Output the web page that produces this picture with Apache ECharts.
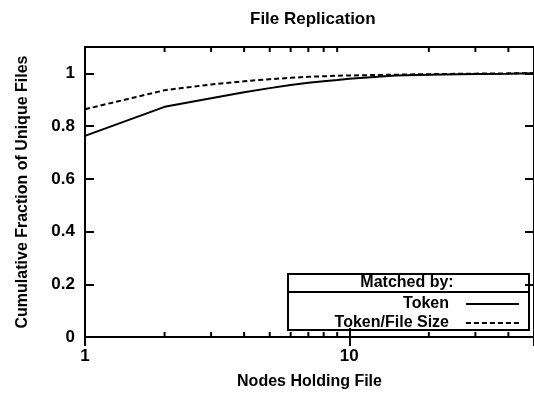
<!DOCTYPE html>
<html>
<head>
<meta charset="utf-8">
<script src="https://cdn.jsdelivr.net/npm/echarts@6/dist/echarts.min.js"></script>
<style>
  html, body { margin: 0; padding: 0; background: #fff; }
  #chart { width: 534px; height: 396px; }
</style>
</head>
<body>
<div id="chart"></div>
<script>
// Number of nodes holding a file (log scale on x)
const nodes = [1, 2, 3, 4, 5, 6, 7, 8, 9, 10, 15, 20, 30, 40, 50];
// Cumulative fraction of unique files, matched by token only
const tokenFrac = [0.763, 0.873, 0.906, 0.928, 0.944, 0.956, 0.964, 0.970, 0.975, 0.980, 0.992, 0.995, 0.998, 0.999, 1.0];
// Cumulative fraction of unique files, matched by token and file size
const tokenSizeFrac = [0.864, 0.936, 0.958, 0.970, 0.978, 0.983, 0.987, 0.989, 0.991, 0.992, 0.995, 0.997, 0.999, 1.0, 1.0];
// Minor tick positions on the log axis
const minorTicks = [2, 3, 4, 5, 6, 7, 8, 9, 20, 30, 40];
// Labelled decades on the log axis
const xTickLabels = [1, 10];

const FONT = '"Liberation Sans", Arial, Helvetica, sans-serif';
const chart = echarts.init(document.getElementById('chart'), null, { renderer: 'canvas' });

function pairs(xs, ys) { return xs.map((x, i) => [x, ys[i]]); }

function isLabelledDecade(v) {
  return xTickLabels.some(t => Math.abs(v - t) < 1e-6 * t);
}

const option = {
  animation: false,
  backgroundColor: '#fff',
  title: {
    text: 'File Replication',
    left: 245,
    top: 6,
    textStyle: { fontFamily: FONT, fontSize: 17, fontWeight: 'bold', color: '#000' }
  },
  // the frame runs slightly past the right edge of the canvas
  grid: { show: true, borderColor: '#000', borderWidth: 2, backgroundColor: 'transparent',
          left: 85, top: 47, width: 458, height: 290 },
  xAxis: [{
    type: 'log',
    logBase: 10,
    min: 1,
    max: 50,
    position: 'bottom',
    name: 'Nodes Holding File',
    nameLocation: 'middle',
    nameGap: 37,
    nameTextStyle: { fontFamily: FONT, fontSize: 16, fontWeight: 'bold', color: '#000' },
    axisLine: { show: false },
    axisTick: { show: true, inside: true, length: 9, lineStyle: { color: '#000', width: 2 } },
    minorTick: { show: false },
    splitLine: { show: false },
    axisLabel: {
      margin: 11,
      showMaxLabel: false,
      fontFamily: FONT, fontSize: 17, fontWeight: 'bold', color: '#000',
      formatter: v => isLabelledDecade(v) ? String(Math.round(v)) : ''
    }
  }, {
    type: 'log',
    logBase: 10,
    min: 1,
    max: 50,
    position: 'top',
    axisLine: { show: false },
    axisTick: { show: true, inside: true, length: 9, lineStyle: { color: '#000', width: 2 } },
    splitLine: { show: false },
    axisLabel: { show: false }
  }],
  yAxis: [{
    type: 'value',
    min: 0,
    max: 1.1,
    interval: 0.2,
    name: 'Cumulative Fraction of Unique Files',
    nameLocation: 'middle',
    nameGap: 54,
    nameTextStyle: { fontFamily: FONT, fontSize: 16, fontWeight: 'bold', color: '#000' },
    axisLine: { show: false },
    axisTick: { show: true, inside: true, length: 9, lineStyle: { color: '#000', width: 2 } },
    splitLine: { show: false },
    axisLabel: {
      margin: 10,
      showMaxLabel: false,
      fontFamily: FONT, fontSize: 17, fontWeight: 'bold', color: '#000',
      formatter: v => (v > 1.05 ? '' : String(Math.round(v * 10) / 10))
    }
  }, {
    type: 'value',
    min: 0,
    max: 1.1,
    interval: 0.2,
    position: 'right',
    axisLine: { show: false },
    axisTick: { show: true, inside: true, length: 9, lineStyle: { color: '#000', width: 2 } },
    splitLine: { show: false },
    axisLabel: { show: false }
  }],
  legend: {
    orient: 'vertical',
    right: 9,
    top: 291,
    align: 'right',
    itemWidth: 53,
    itemHeight: 12,
    itemGap: 3,
    data: ['Token', 'Token/File Size'],
    itemStyle: { color: 'transparent', borderColor: 'transparent', borderWidth: 0 },
    textStyle: { fontFamily: FONT, fontSize: 16, fontWeight: 'bold', color: '#000', padding: [0, 12, 0, 0] }
  },
  graphic: [
    { type: 'rect', shape: { x: 288, y: 274, width: 241, height: 56 }, style: { fill: 'none', stroke: '#000', lineWidth: 2 }, z: 10 },
    { type: 'line', shape: { x1: 288, y1: 292, x2: 529, y2: 292 }, style: { stroke: '#000', lineWidth: 2 }, z: 10 },
    { type: 'text', x: 407, y: 283, style: { text: 'Matched by:', font: 'bold 16px ' + FONT, fill: '#000', textAlign: 'center', textVerticalAlign: 'middle' }, z: 10 }
  ],
  series: [{
    name: 'Token',
    type: 'line',
    data: pairs(nodes, tokenFrac),
    showSymbol: false,
    symbol: 'none',
    lineStyle: { color: '#000', width: 2, type: 'solid' },
    itemStyle: { color: '#000' }
  }, {
    name: 'Token/File Size',
    type: 'line',
    data: pairs(nodes, tokenSizeFrac),
    showSymbol: false,
    symbol: 'none',
    lineStyle: { color: '#000', width: 2, type: [5, 3] },
    itemStyle: { color: '#000' }
  }, {
    // minor ticks of the log axis, drawn on the bottom and top frame edges
    name: 'minor',
    type: 'custom',
    silent: true,
    data: minorTicks.map(v => [v, 0]),
    renderItem: function (params, api) {
      const x = api.coord([api.value(0), 0])[0];
      const cs = params.coordSys;
      const yb = cs.y + cs.height;
      const yt = cs.y;
      return {
        type: 'group',
        children: [
          { type: 'line', shape: { x1: x, y1: yb, x2: x, y2: yb - 5 }, style: { stroke: '#000', lineWidth: 2 } },
          { type: 'line', shape: { x1: x, y1: yt, x2: x, y2: yt + 5 }, style: { stroke: '#000', lineWidth: 2 } }
        ]
      };
    }
  }]
};

chart.setOption(option);
</script>
</body>
</html>
